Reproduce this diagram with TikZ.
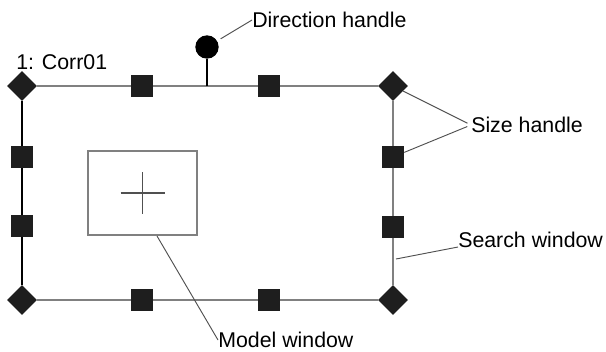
\documentclass[tikz,border=0pt]{standalone}
\usepackage{fontspec}
\setmainfont{Liberation Sans}
\usetikzlibrary{shapes.geometric,positioning}
\definecolor{handlefill}{HTML}{1E1E1E}
\definecolor{framegray}{HTML}{808080}
\definecolor{leadgray}{HTML}{505050}

\begin{document}
\begin{tikzpicture}[x=0.75pt, y=-0.75pt,
  corner/.style={diamond, fill=handlefill, minimum size=22.5pt, inner sep=0pt},
  sidebox/.style={rectangle, fill=handlefill, minimum size=16.5pt, inner sep=0pt},
  lbl/.style={font=\fontsize{16}{19}\selectfont, inner sep=0pt},
  lead/.style={draw=leadgray, line width=0.7pt},
  frame/.style={draw=framegray, line width=1.4pt}]
\useasboundingbox (0,0) rectangle (606,351);

% Corner (size) handles
\node[corner] (tl) at (22,86) {};
\node[corner] (tr) at (393,86) {};
\node[corner] (bl) at (22,300) {};
\node[corner] (br) at (393,300) {};

% Side handles
\node[sidebox] (t1) at (142,86) {};
\node[sidebox] (t2) at (269,86) {};
\node[sidebox] (b1) at (142,300) {};
\node[sidebox] (b2) at (269,300) {};
\node[sidebox] (l1) at (22,157) {};
\node[sidebox] (l2) at (22,226) {};
\node[sidebox] (r1) at (393,157) {};
\node[sidebox] (r2) at (393,227) {};

% Search window edges
\draw[frame] (tl) -- (t1) -- (t2) -- (tr);
\draw[frame] (tr) -- (r1) -- (r2) -- (br);
\draw[frame] (bl) -- (b1) -- (b2) -- (br);
\draw[frame, draw=black] (tl) -- (l1) -- (l2) -- (bl);

% Direction handle
\node[circle, fill=black, minimum size=17.5pt, inner sep=0pt] (dir) at (207,47) {};
\coordinate (stem) at (207,86);
\draw[line width=1.4pt] (stem) -- (dir);

% Model window
\node[draw=framegray, line width=1pt, minimum width=81.75pt, minimum height=63pt] (mw) at (142.5,193) {};
\draw[leadgray, line width=0.8pt] (mw.center) +(-22,0) -- +(22,0);
\draw[leadgray, line width=0.8pt] (mw.center) +(0,-21) -- +(0,21);

% Labels
\node[lbl, anchor=west] (name) at (16,62) {1: Corr01};
\node[lbl, anchor=west] (dirlbl) at (252,20) {Direction handle};
\node[lbl, anchor=west] (sizelbl) at (471,125) {Size handle};
\node[lbl, anchor=base west] (swlbl) at (458,247) {Search window};
\node[lbl, anchor=west] (mwlbl) at (218,340) {Model window};

% Leader lines
\coordinate (swpt) at (396,259);
\coordinate (mwpt) at (157,236);
\draw[lead, shorten <=3pt] (dir) -- (dirlbl.west);
\draw[lead, shorten >=3pt] (tr) -- (sizelbl.west);
\draw[lead, shorten >=3pt] (r1) -- (sizelbl.west);
\draw[lead] (swpt) -- (swlbl.base west);
\draw[lead] (mwpt) -- (mwlbl.west);
\end{tikzpicture}
\end{document}
